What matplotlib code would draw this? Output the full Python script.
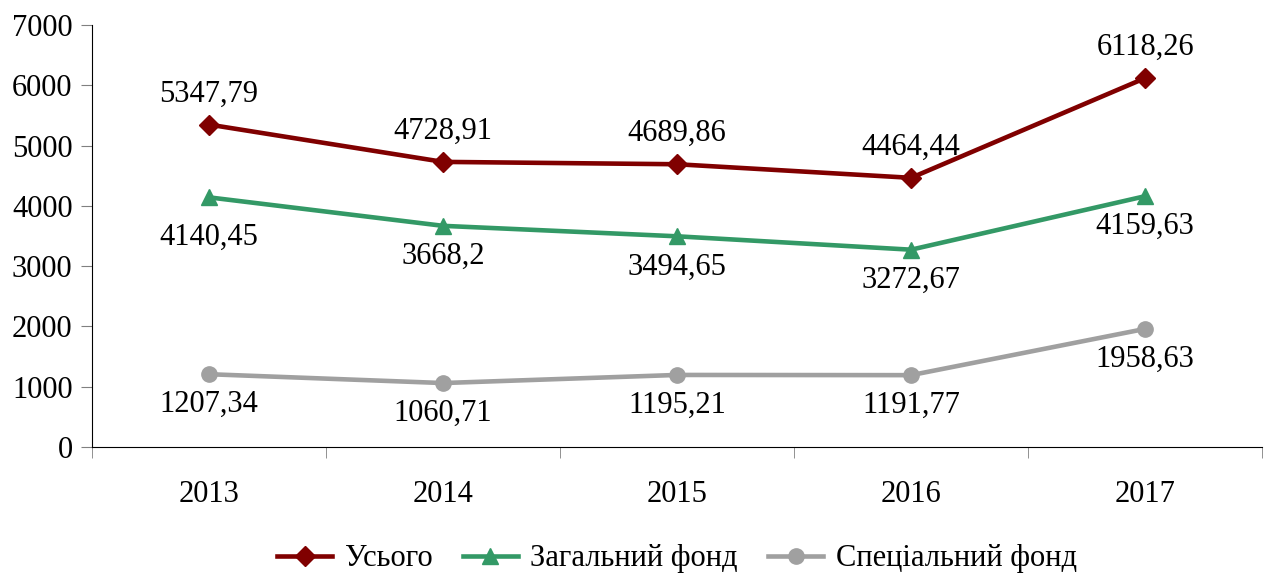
import matplotlib
matplotlib.use("Agg")
import matplotlib.pyplot as plt
import numpy as np

years = ["2013", "2014", "2015", "2016", "2017"]
total = [5347.79, 4728.91, 4689.86, 4464.44, 6118.26]
general = [4140.45, 3668.2, 3494.65, 3272.67, 4159.63]
special = [1207.34, 1060.71, 1195.21, 1191.77, 1958.63]
total_lbl = ["5347,79", "4728,91", "4689,86", "4464,44", "6118,26"]
general_lbl = ["4140,45", "3668,2", "3494,65", "3272,67", "4159,63"]
special_lbl = ["1207,34", "1060,71", "1195,21", "1191,77", "1958,63"]
names = ["Усього", "Загальний фонд", "Спеціальний фонд"]

plt.rcParams['font.family'] = ['Liberation Serif', 'DejaVu Serif']
fig = plt.figure(figsize=(12.71, 5.75), dpi=100)
ax = fig.add_axes([0.0724, 0.2226, 0.9206, 0.734])
x = np.arange(len(years))

c_tot, c_gen, c_spe = "#800000", "#339966", "#A0A0A0"
ax.plot(x, total, color=c_tot, lw=3.3, marker="D", ms=10, label=names[0])
ax.plot(x, general, color=c_gen, lw=3.3, marker="^", ms=11, label=names[1])
ax.plot(x, special, color=c_spe, lw=3.3, marker="o", ms=11, label=names[2])

fs = 22
gen_off = [-29, -22, -22, -22, -22]
for i in range(len(x)):
    ax.annotate(total_lbl[i], (x[i], total[i]), xytext=(0, 22), textcoords="offset points",
                ha="center", va="center", fontsize=fs)
    ax.annotate(general_lbl[i], (x[i], general[i]), xytext=(0, gen_off[i]), textcoords="offset points",
                ha="center", va="center", fontsize=fs)
    ax.annotate(special_lbl[i], (x[i], special[i]), xytext=(0, -22), textcoords="offset points",
                ha="center", va="center", fontsize=fs)

ax.set_xlim(-0.5, 4.5)
ax.set_ylim(0, 7000)
ax.set_yticks(range(0, 7001, 1000))
ax.set_xticks(x)
ax.set_xticklabels(years)
ax.set_xticks(np.arange(-0.5, 4.6, 1), minor=True)
ax.tick_params(axis="x", which="major", length=0, pad=24, labelsize=fs)
ax.tick_params(axis="x", which="minor", length=8, direction="out", color="#808080")
ax.tick_params(axis="y", length=8, direction="out", color="#808080", labelsize=fs, pad=6)
for s in ["top", "right"]:
    ax.spines[s].set_visible(False)
ax.spines["left"].set_color("black")
ax.spines["bottom"].set_color("black")

ax.legend(loc="center", bbox_to_anchor=(0.5, -0.265), ncol=3, frameon=False, fontsize=fs,
          handlelength=1.8, columnspacing=1.0, handletextpad=0.4)

fig.savefig("out.png", dpi=100)
